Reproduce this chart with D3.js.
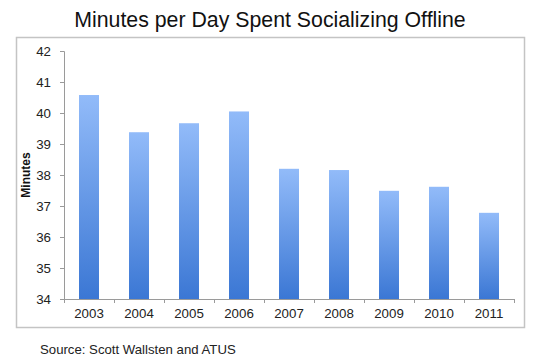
<!DOCTYPE html>
<html>
<head>
<meta charset="utf-8">
<script src="https://cdn.jsdelivr.net/npm/d3@7"></script>
<style>
  body { margin: 0; background: #fff; }
  svg { display: block; font-family: "Liberation Sans", Arial, sans-serif; }
</style>
</head>
<body>
<svg width="540" height="363"></svg>
<script>
// chart data
const years = ['2003', '2004', '2005', '2006', '2007', '2008', '2009', '2010', '2011'];
const minutes = [40.58, 39.38, 39.67, 40.05, 38.2, 38.16, 37.49, 37.62, 36.78];
const yTicks = [34, 35, 36, 37, 38, 39, 40, 41, 42];

const svg = d3.select('svg');

// bar gradient, light on top, darker at the base
const grad = svg.append('defs').append('linearGradient')
    .attr('id', 'barGrad')
    .attr('x1', 0).attr('y1', 0).attr('x2', 0).attr('y2', 1);
grad.append('stop').attr('offset', '0%').attr('stop-color', '#92bbf9');
grad.append('stop').attr('offset', '100%').attr('stop-color', '#3b77d4');

svg.append('text')
    .attr('x', 270).attr('y', 27)
    .attr('text-anchor', 'middle')
    .attr('font-size', 21.3)
    .attr('fill', '#111')
    .text('Minutes per Day Spent Socializing Offline');

// frame around the chart
svg.append('rect')
    .attr('x', 16.5).attr('y', 37.5)
    .attr('width', 508).attr('height', 290)
    .attr('fill', '#fff')
    .attr('stroke', '#c4c4c4')
    .attr('stroke-width', 1.5);

const x = d3.scaleBand().domain(years).range([64, 514]).paddingInner(0.6).paddingOuter(0.3);
const y = d3.scaleLinear().domain([34, 42]).range([299, 51]);

svg.selectAll('rect.bar')
    .data(minutes)
    .enter()
    .append('rect')
    .attr('class', 'bar')
    .attr('x', (d, i) => x(years[i]))
    .attr('y', d => y(d))
    .attr('width', x.bandwidth())
    .attr('height', d => y(34) - y(d))
    .attr('fill', 'url(#barGrad)');

svg.append('g')
    .attr('transform', 'translate(64,0)')
    .call(d3.axisLeft(y).tickValues(yTicks).tickSize(4).tickPadding(9));

const xTicks = d3.scalePoint().domain(d3.range(10)).range([64, 514]);
svg.append('g')
    .attr('transform', 'translate(0,299)')
    .call(d3.axisBottom(x).tickSize(0).tickPadding(10));
svg.append('g')
    .attr('transform', 'translate(0,299)')
    .call(d3.axisBottom(xTicks).tickSize(4).tickFormat(''))
    .select('.domain').remove();

svg.selectAll('.domain, .tick line').attr('stroke', '#9a9a9a');
svg.selectAll('.tick text').attr('font-size', 13.3).attr('fill', '#222')
    .attr('font-family', '"Liberation Sans", Arial, sans-serif');

svg.append('text')
    .attr('transform', 'translate(30,175) rotate(-90)')
    .attr('text-anchor', 'middle')
    .attr('font-size', 12)
    .attr('font-weight', 'bold')
    .attr('fill', '#111')
    .text('Minutes');

svg.append('text')
    .attr('x', 40).attr('y', 354)
    .attr('font-size', 13.2)
    .attr('fill', '#222')
    .text('Source: Scott Wallsten and ATUS');
</script>
</body>
</html>
